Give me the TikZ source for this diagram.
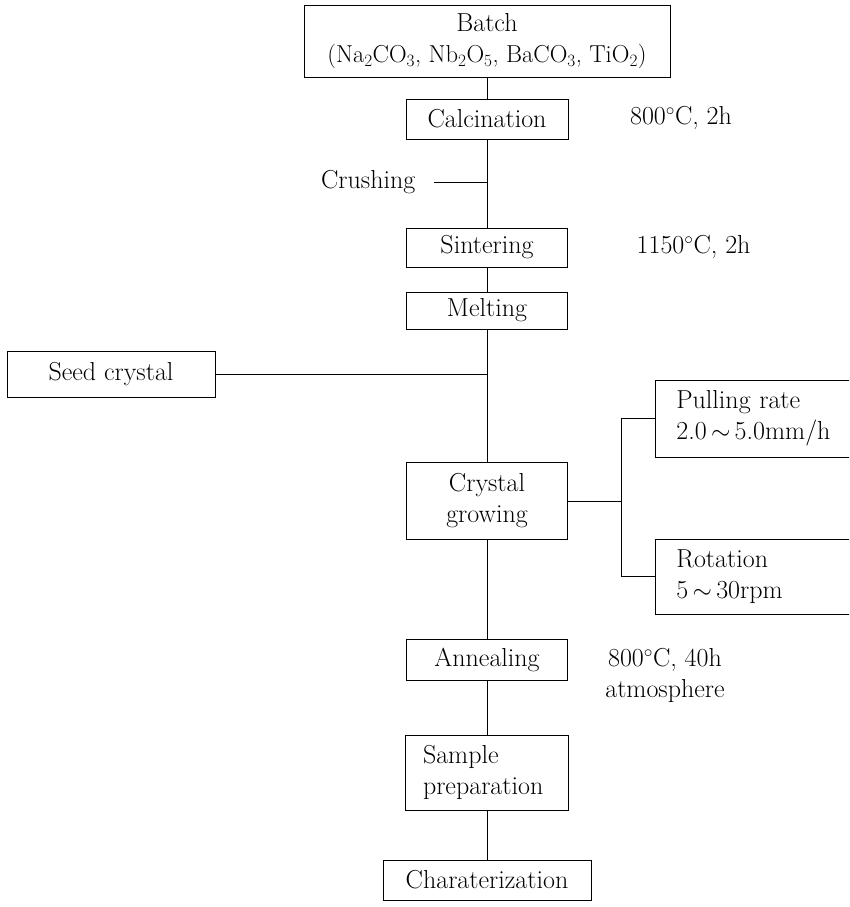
\documentclass[tikz,border=0pt]{standalone}
\usepackage{amsmath}

\begin{document}
\begin{tikzpicture}[x=1pt, y=-1pt, line width=0.7pt,
    box/.style={draw, font=\fontsize{26}{31}\selectfont, align=center, inner sep=3pt},
    note/.style={font=\fontsize{26}{31}\selectfont, align=center}]

            \useasboundingbox (0,0) rectangle (849,907);
            \clip (0,0) rectangle (849,907);

            % Boites
            \node[box, minimum width=366, minimum height=72] (batch) at (487,41) {Batch\\{\fontsize{24.5}{31}\selectfont(Na$_2$CO$_3$, Nb$_2$O$_5$, BaCO$_3$, TiO$_2$)}};
            \node[box, minimum width=162, minimum height=40] (calc) at (487,119) {Calcination};
            \node[box, minimum width=161, minimum height=39] (sint) at (487,247.5) {Sintering};
            \node[box, minimum width=161, minimum height=37] (melt) at (487,310.5) {Melting};
            \node[box, minimum width=208, minimum height=46] (seed) at (111,374) {Seed crystal};
            \node[box, minimum width=161, minimum height=77] (grow) at (487,501) {Crystal\\growing};
            \node[box, anchor=west, text width=180, inner xsep=21, align=left, minimum height=77] (pull) at (655,418.5) {Pulling rate\\2.0\,$\sim$\,5.0mm/h};
            \node[box, anchor=west, text width=180, inner xsep=21, align=left, minimum height=75] (rot) at (655,576.5) {Rotation\\5\,$\sim$\,30rpm};
            \node[box, minimum width=161, minimum height=41] (anneal) at (487,659.5) {Annealing};
            \node[box, minimum width=163, minimum height=75, text width=128, align=left] (sample) at (487,772.5) {Sample\\preparation};
            \node[box, minimum width=208, minimum height=40] (char) at (487,880) {Charaterization};

            % Conditions
            \node[note] (tcalc) at (681,118) {800$^\circ$C,\ 2h};
            \node[note, anchor=west] (tsint) at (633,247) {1150$^\circ$C,\ 2h};
            \node[note] (tann) at (665,675) {800$^\circ$C,\ 40h\\atmosphere};
            \node[note, anchor=east] (crush) at (419,182) {Crushing};

            % Jonctions
            \coordinate (jc) at (487,182);
            \coordinate (js) at (487,374);
            \coordinate (br) at (621,501);

            % Liaisons
            \draw (batch) -- (calc);
            \draw (calc) -- (sint);
            \draw (sint) -- (melt);
            \draw (melt) -- (grow);
            \draw (grow) -- (anneal);
            \draw (anneal) -- (sample);
            \draw (sample) -- (char);
            \draw ([xshift=15pt]crush.east) -- (jc);
            \draw (seed) -- (js);
            \draw (grow) -- (br);
            \draw (pull.west) -| (br);
            \draw (rot.west) -| (br);

\end{tikzpicture}
\end{document}
